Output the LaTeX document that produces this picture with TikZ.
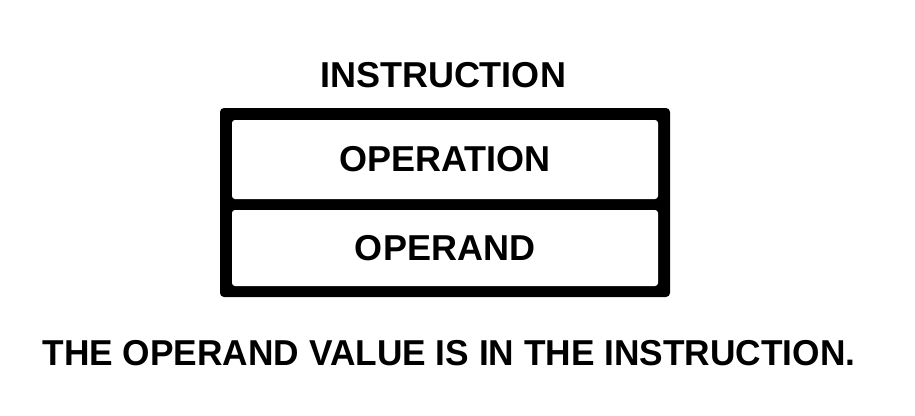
\documentclass[tikz,border=0pt]{standalone}
\usepackage{fontspec}
\setmainfont{Liberation Sans}
\begin{document}
\begin{tikzpicture}[x=1pt,y=-1pt,
  lbl/.style={font=\bfseries\fontsize{36}{40}\selectfont, inner sep=0pt},
  frame/.style={fill=black, rounded corners=4pt, inner sep=0pt},
  field/.style={fill=white, rounded corners=3pt, inner sep=0pt, lbl}]
\useasboundingbox[fill=white] (0,0) rectangle (915,415);
\node[lbl] (title) at (443,75) {INSTRUCTION};
\node[frame, minimum width=450pt, minimum height=189pt] (outer) at (445,202.5) {};
\node[field, minimum width=426pt, minimum height=79pt] (operation) at (445,159.5) {OPERATION};
\node[field, minimum width=426pt, minimum height=76pt] (operand) at (445,248) {OPERAND};
\node[lbl, xscale=0.98] (caption) at (449,353) {THE OPERAND VALUE IS IN THE INSTRUCTION.};
\end{tikzpicture}
\end{document}
